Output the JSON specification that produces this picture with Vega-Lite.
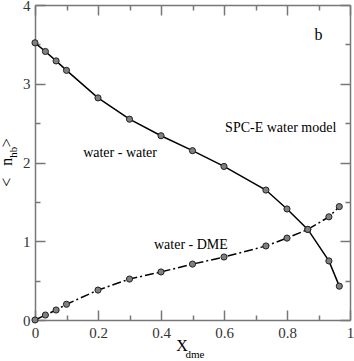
{
  "$schema": "https://vega.github.io/schema/vega-lite/v6.json",
  "width": 315,
  "height": 315,
  "autosize": "none",
  "padding": {"left": 35, "top": 5, "right": 4, "bottom": 41},
  "background": "white",
  "config": {
    "view": {"stroke": null},
    "axis": {
      "grid": false,
      "title": null,
      "domainColor": "#777777",
      "domainWidth": 1.5,
      "tickColor": "#777777",
      "tickWidth": 1.5,
      "labelFont": "Liberation Serif",
      "labelFontSize": 15,
      "labelColor": "#333333",
      "labelFlush": false,
      "labelOverlap": false
    }
  },
  "datasets": {
    "ww": [
      {"x": 0, "y": 3.52},
      {"x": 0.033, "y": 3.41},
      {"x": 0.067, "y": 3.29},
      {"x": 0.1, "y": 3.17},
      {"x": 0.2, "y": 2.82},
      {"x": 0.3, "y": 2.55},
      {"x": 0.4, "y": 2.34},
      {"x": 0.5, "y": 2.15},
      {"x": 0.6, "y": 1.95},
      {"x": 0.733, "y": 1.65},
      {"x": 0.8, "y": 1.41},
      {"x": 0.866, "y": 1.15},
      {"x": 0.933, "y": 0.75},
      {"x": 0.966, "y": 0.43}
    ],
    "dme": [
      {"x": 0, "y": 0.0},
      {"x": 0.033, "y": 0.063},
      {"x": 0.067, "y": 0.127},
      {"x": 0.1, "y": 0.2},
      {"x": 0.2, "y": 0.38},
      {"x": 0.3, "y": 0.52},
      {"x": 0.4, "y": 0.61},
      {"x": 0.5, "y": 0.71},
      {"x": 0.6, "y": 0.8},
      {"x": 0.733, "y": 0.94},
      {"x": 0.8, "y": 1.04},
      {"x": 0.866, "y": 1.15},
      {"x": 0.933, "y": 1.31},
      {"x": 0.966, "y": 1.44}
    ],
    "notes": [
      {"x": 0.9, "y": 3.62, "t": "b", "s": 16},
      {"x": 0.78, "y": 2.44, "t": "SPC-E water model", "s": 14},
      {"x": 0.27, "y": 2.12, "t": "water - water", "s": 14},
      {"x": 0.495, "y": 0.95, "t": "water - DME", "s": 14},
      {"x": 0.467, "y": -0.33, "t": "X", "s": 16},
      {"x": 0.508, "y": -0.444, "t": "dme", "s": 11}
    ],
    "ytitle": [
      {"x": -0.09, "y": 1.75, "t": "<", "s": 16},
      {"x": -0.09, "y": 2.01, "t": "n", "s": 16},
      {"x": -0.066, "y": 2.13, "t": "hb", "s": 11},
      {"x": -0.09, "y": 2.25, "t": ">", "s": 16}
    ]
  },
  "layer": [
    {
      "data": {"name": "ww"},
      "mark": {"type": "line", "color": "black", "strokeWidth": 1.5},
      "encoding": {
        "x": {
          "field": "x", "type": "quantitative",
          "scale": {"domain": [0, 1], "nice": false},
          "axis": {
            "orient": "bottom",
            "values": [0, 0.1, 0.2, 0.3, 0.4, 0.5, 0.6, 0.7, 0.8, 0.9, 1],
            "format": "~g",
            "labelExpr": "round(datum.value*10)%2===0 ? datum.label : ''",
            "tickSize": {"condition": {"test": "round(datum.value*10)%2===0", "value": -10}, "value": -5},
            "labelPadding": 15
          }
        },
        "y": {
          "field": "y", "type": "quantitative",
          "scale": {"domain": [0, 4], "nice": false},
          "axis": {
            "orient": "left",
            "values": [0, 0.5, 1, 1.5, 2, 2.5, 3, 3.5, 4],
            "format": "~g",
            "labelExpr": "round(datum.value*2)%2===0 ? datum.label : ''",
            "tickSize": {"condition": {"test": "round(datum.value*2)%2===0", "value": -10}, "value": -5},
            "labelPadding": 15
          }
        }
      }
    },
    {
      "data": {"name": "dme"},
      "mark": {"type": "line", "color": "black", "strokeWidth": 1.5, "strokeDash": [9, 3, 2, 3]},
      "encoding": {
        "x": {
          "field": "x", "type": "quantitative",
          "scale": {"domain": [0, 1], "nice": false},
          "axis": {
            "orient": "top",
            "values": [0, 0.1, 0.2, 0.3, 0.4, 0.5, 0.6, 0.7, 0.8, 0.9, 1],
            "labels": false,
            "tickSize": {"condition": {"test": "round(datum.value*10)%2===0", "value": -10}, "value": -5}
          }
        },
        "y": {
          "field": "y", "type": "quantitative",
          "scale": {"domain": [0, 4], "nice": false},
          "axis": {
            "orient": "right",
            "values": [0, 0.5, 1, 1.5, 2, 2.5, 3, 3.5, 4],
            "labels": false,
            "tickSize": {"condition": {"test": "round(datum.value*2)%2===0", "value": -10}, "value": -5}
          }
        }
      }
    },
    {
      "data": {"name": "ww"},
      "mark": {"type": "point", "filled": true, "fill": "#808080", "stroke": "#222222", "strokeWidth": 1, "size": 38, "opacity": 1},
      "encoding": {
        "x": {"field": "x", "type": "quantitative", "axis": null},
        "y": {"field": "y", "type": "quantitative", "axis": null}
      }
    },
    {
      "data": {"name": "dme"},
      "mark": {"type": "point", "filled": true, "fill": "#808080", "stroke": "#222222", "strokeWidth": 1, "size": 38, "opacity": 1},
      "encoding": {
        "x": {"field": "x", "type": "quantitative", "axis": null},
        "y": {"field": "y", "type": "quantitative", "axis": null}
      }
    },
    {
      "data": {"name": "notes"},
      "mark": {"type": "text", "font": "Liberation Serif", "color": "black", "align": "center", "baseline": "middle", "clip": false},
      "encoding": {
        "x": {"field": "x", "type": "quantitative", "axis": null},
        "y": {"field": "y", "type": "quantitative", "axis": null},
        "text": {"field": "t"},
        "size": {"field": "s", "type": "quantitative", "scale": null}
      }
    },
    {
      "data": {"name": "ytitle"},
      "mark": {"type": "text", "font": "Liberation Serif", "color": "black", "align": "center", "baseline": "middle", "angle": 270, "clip": false},
      "encoding": {
        "x": {"field": "x", "type": "quantitative", "axis": null},
        "y": {"field": "y", "type": "quantitative", "axis": null},
        "text": {"field": "t"},
        "size": {"field": "s", "type": "quantitative", "scale": null}
      }
    }
  ],
  "resolve": {"axis": {"x": "independent", "y": "independent"}}
}
